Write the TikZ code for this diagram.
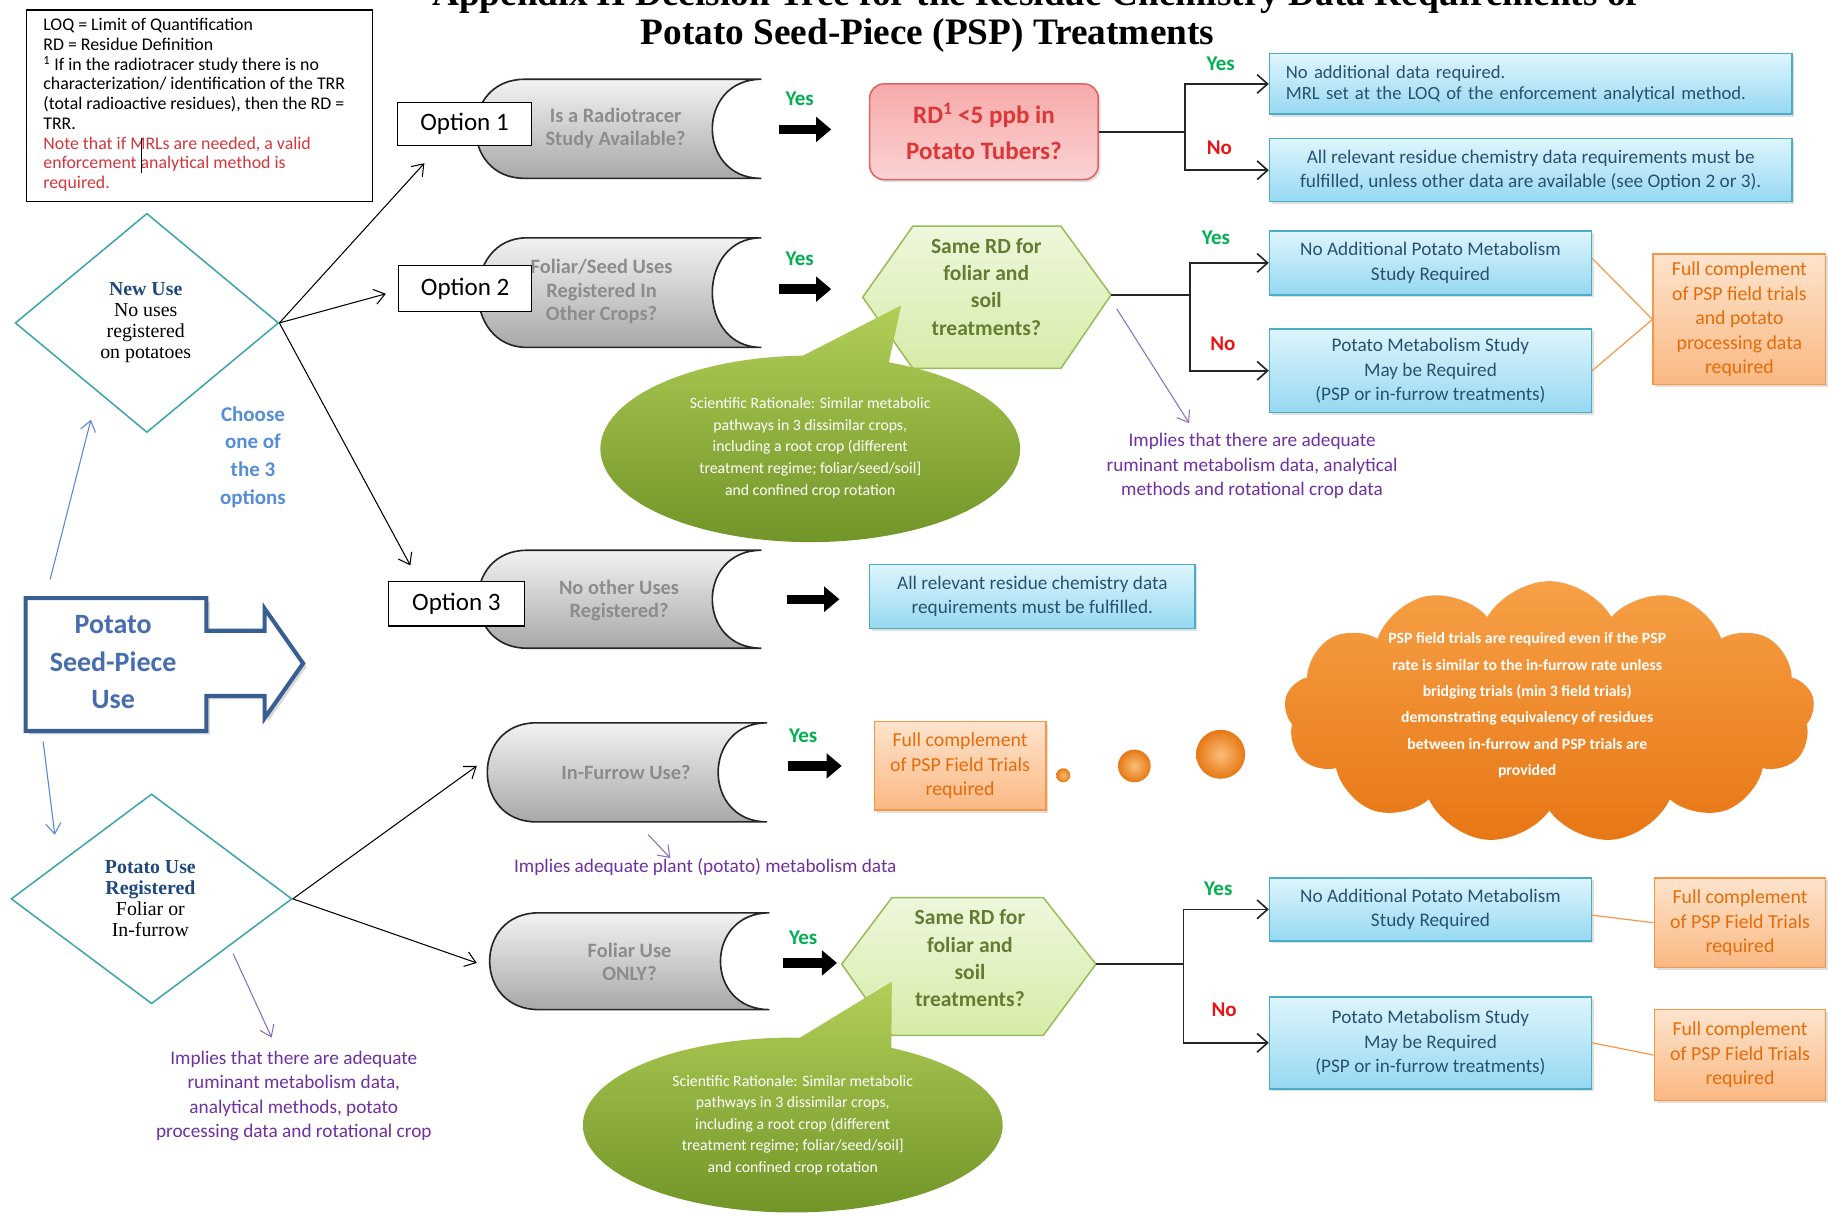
\documentclass[tikz,border=0pt]{standalone}
\usepackage{fontspec}
\setmainfont{Carlito}
\newfontfamily\tnr{Liberation Serif}
\usetikzlibrary{shapes.geometric,shapes.symbols,arrows.meta,shadows}
\definecolor{bluetop}{RGB}{222,245,252}
\definecolor{bluebot}{RGB}{150,216,242}
\definecolor{blueedge}{RGB}{75,172,198}
\definecolor{bluetxt}{RGB}{40,82,112}
\definecolor{orgtop}{RGB}{253,228,205}
\definecolor{orgbot}{RGB}{250,184,130}
\definecolor{orgedge}{RGB}{247,150,70}
\definecolor{orgtxt}{RGB}{228,108,10}
\definecolor{graytop}{RGB}{242,242,242}
\definecolor{graybot}{RGB}{168,168,168}
\definecolor{graytxt}{RGB}{140,140,140}
\definecolor{hextop}{RGB}{238,247,220}
\definecolor{hexbot}{RGB}{214,236,168}
\definecolor{hexedge}{RGB}{155,187,89}
\definecolor{hextxt}{RGB}{100,125,50}
\definecolor{bubtop}{RGB}{178,207,88}
\definecolor{bubbot}{RGB}{110,146,38}
\definecolor{redtop}{RGB}{246,170,170}
\definecolor{redbot}{RGB}{251,210,210}
\definecolor{rededge}{RGB}{222,100,100}
\definecolor{redtxt}{RGB}{220,55,55}
\definecolor{cloudtop}{RGB}{246,160,70}
\definecolor{cloudbot}{RGB}{232,118,20}
\definecolor{yesgreen}{RGB}{0,176,80}
\definecolor{nored}{RGB}{235,20,20}
\definecolor{purptxt}{RGB}{112,48,160}
\definecolor{purparr}{RGB}{140,110,190}
\definecolor{choosebl}{RGB}{85,142,213}
\definecolor{thinblue}{RGB}{85,135,210}
\definecolor{diaedge}{RGB}{60,165,170}
\definecolor{darkblue}{RGB}{31,73,125}
\definecolor{pspedge}{RGB}{55,95,145}
\definecolor{psptxt}{RGB}{70,110,175}
\definecolor{notered}{RGB}{210,55,60}
\definecolor{orgline}{RGB}{247,150,70}
\definecolor{ballin}{RGB}{250,190,120}
\definecolor{ballout}{RGB}{230,120,20}
\newcommand{\myfs}[2]{\fontsize{#1}{#2}\selectfont}
\newcommand{\grshape}[4]{\draw[grayshp] (#1+42,#3) -- (#2,#3) .. controls (#2-56,#3) and (#2-56,#4) .. (#2,#4) -- (#1+42,#4) .. controls (#1-14,#4) and (#1-14,#3) .. (#1+42,#3) -- cycle;}
\begin{document}
\begin{tikzpicture}[x=1pt,y=-1pt,
  shadowed/.style={drop shadow={opacity=0.25,shadow xshift=2pt,shadow yshift=-2pt}},
  bluebox/.style={draw=blueedge, line width=1.3, top color=bluetop, bottom color=bluebot, text=bluetxt, font=\myfs{16.5}{21}, align=center, inner sep=2, shadowed},
  orgbox/.style={draw=orgedge, line width=1.3, top color=orgtop, bottom color=orgbot, text=orgtxt, font=\myfs{17}{21}, align=center, inner sep=2, shadowed},
  optbox/.style={draw, line width=1, fill=white, font=\myfs{21.5}{24}, minimum height=38, inner sep=0},
  graytext/.style={text=graytxt, font=\bfseries\myfs{17.5}{20}, align=center},
  grayshp/.style={draw=black!85, line width=1.4, top color=graytop, bottom color=graybot},
  hexshp/.style={draw=hexedge, line width=1.3, top color=hextop, bottom color=hexbot},
  hextext/.style={text=hextxt, font=\bfseries\myfs{18.5}{23.5}, align=center},
  bubble/.style={top color=bubtop, bottom color=bubbot},
  bubtext/.style={text=white, font=\myfs{13.5}{18.5}, align=center},
  yeslab/.style={text=yesgreen, font=\bfseries\myfs{18}{20}},
  nolab/.style={text=nored, font=\bfseries\myfs{18}{20}},
  purp/.style={text=purptxt, font=\myfs{16.5}{21}, align=center},
  purparrow/.style={draw=purparr, line width=0.9, -{Straight Barb[length=9pt,width=13pt]}},
  thinarrow/.style={draw=black, line width=0.9, -{Straight Barb[length=9pt,width=13pt]}},
  bluearrow/.style={draw=thinblue, line width=0.9, -{Straight Barb[length=9pt,width=13pt]}},
  branch/.style={draw=black!85, line width=1.4, -{Straight Barb[length=9pt,width=16pt]}},
  fatarrow/.style={draw=black, line width=8, -{Triangle[length=13pt,width=21pt]}},
  orgln/.style={draw=orgline, line width=1},
  dot/.style={inner color=ballin, outer color=ballout}
]
\useasboundingbox (0,0) rectangle (1568,1044);
\clip (0,0) rectangle (1568,1044);
\fill[white] (0,0) rectangle (1568,1044);

% title
\node[font=\tnr\bfseries\myfs{32}{34}, anchor=base] (t1) at (888,5) {Appendix II  Decision Tree for the Residue Chemistry Data Requirements of};
\node[font=\tnr\bfseries\myfs{32}{34}, anchor=base] (t2) at (795.5,38) {Potato Seed-Piece (PSP) Treatments};

% legend
\node[draw, line width=1.2, minimum width=297, minimum height=164, anchor=north west, inner sep=0] (leg) at (22,8) {};
\node[anchor=west, align=left, font=\myfs{15.3}{16.9}, inner sep=0] (legt) at (37,90) {LOQ = Limit of Quantification\\RD = Residue Definition\\\textsuperscript{1} If in the radiotracer study there is no\\characterization/ identification of the TRR\\(total radioactive residues), then the RD =\\TRR.\\\textcolor{notered}{Note that if MRLs are needed, a valid}\\\textcolor{notered}{enforcement analytical method is}\\\textcolor{notered}{required.}};
\draw[line width=0.8] (121,118) -- (121,148);

% gray shapes
\grshape{408}{653}{68}{153}
\grshape{410}{653}{204}{298}
\grshape{410}{653}{472}{556}
\grshape{418}{658}{620}{705}
\grshape{420}{660}{783}{866}
\node[graytext] (g1) at (528,110) {Is a Radiotracer\\Study Available?};
\node[graytext] (g2) at (516,250) {Foliar/Seed Uses\\Registered In\\Other Crops?};
\node[graytext] (g3) at (531,515) {No other Uses\\Registered?};
\node[graytext] (g4) at (537,663) {In-Furrow Use?};
\node[graytext] (g5) at (540,825) {Foliar Use\\ONLY?};

\node[optbox, minimum width=115, minimum height=37] (opt1) at (398.5,106.5) {Option 1};
\node[optbox, minimum width=114, minimum height=39] (opt2) at (399,247.5) {Option 2};
\node[optbox, minimum width=117, minimum height=38] (opt3) at (391.5,518) {Option 3};

% red box
\node[draw=rededge, line width=1.3, top color=redtop, bottom color=redbot, rounded corners=12, minimum width=196, minimum height=82, text=redtxt, font=\bfseries\myfs{21.5}{31}, align=center, shadowed] (red) at (844,113) {RD\textsuperscript{1} <5 ppb in\\Potato Tubers?};

% blue boxes
\node[bluebox, minimum width=448, minimum height=52, text width=420, align=left, font=\myfs{16}{18.5}] (b1) at (1313,72) {No additional data required.\\MRL set at the LOQ of the enforcement analytical method.};
\node[bluebox, minimum width=448, minimum height=54] (b2) at (1313,146) {All relevant residue chemistry data requirements must be\\fulfilled, unless other data are available (see Option 2 or 3).};
\node[bluebox, minimum width=276, minimum height=55] (b3) at (1227,225.5) {No Additional Potato Metabolism\\Study Required};
\node[bluebox, minimum width=276, minimum height=72] (b4) at (1227,318) {Potato Metabolism Study\\May be Required\\(PSP or in-furrow treatments)};
\node[bluebox, minimum width=279, minimum height=55] (b5) at (885.5,511.5) {All relevant residue chemistry data\\requirements must be fulfilled.};
\node[bluebox, minimum width=276, minimum height=54] (b6) at (1227,780) {No Additional Potato Metabolism\\Study Required};
\node[bluebox, minimum width=276, minimum height=79] (b7) at (1227,894.5) {Potato Metabolism Study\\May be Required\\(PSP or in-furrow treatments)};

% orange boxes
\node[orgbox, minimum width=148, minimum height=112] (o1) at (1492,274) {Full complement\\of PSP field trials\\and potato\\processing data\\required};
\node[orgbox, minimum width=147, minimum height=76] (o2) at (823.5,657) {Full complement\\of PSP Field Trials\\required};
\node[orgbox, minimum width=147, minimum height=77] (o3) at (1492.5,791.5) {Full complement\\of PSP Field Trials\\required};
\node[orgbox, minimum width=147, minimum height=78] (o4) at (1492.5,905) {Full complement\\of PSP Field Trials\\required};

% hexagons
\draw[hexshp] (740,255) -- (783,194) -- (910,194) -- (953,253) -- (910,316) -- (783,316) -- cycle;
\draw[hexshp] (722,827) -- (765,770) -- (895,770) -- (940,827) -- (895,888) -- (765,888) -- cycle;
\node[hextext] (hx1) at (846,246) {Same RD for\\foliar and\\soil\\treatments?};
\node[hextext] (hx2) at (832,822) {Same RD for\\foliar and\\soil\\treatments?};
\coordinate (hx1r) at (953,253);
\coordinate (hx2r) at (940,827);

% speech bubbles
\path[bubble] (773,262) -- ([shift={(695,385)}]-68:180 and 80) arc[start angle=-68, end angle=268, x radius=180, y radius=80] -- cycle;
\path[bubble] (765,842) -- ([shift={(680,965)}]-62:180 and 75) arc[start angle=-62, end angle=272, x radius=180, y radius=75] -- cycle;
\node[bubtext] (sr1) at (695,384) {Scientific Rationale: Similar metabolic\\pathways in 3 dissimilar crops,\\including a root crop (different\\treatment regime; foliar/seed/soil]\\and confined crop rotation};
\node[bubtext] (sr2) at (680,965) {Scientific Rationale: Similar metabolic\\pathways in 3 dissimilar crops,\\including a root crop (different\\treatment regime; foliar/seed/soil]\\and confined crop rotation};

% cloud and dots
\node[cloud, cloud puffs=13, cloud puff arc=120, aspect=2, minimum width=455, minimum height=225, top color=cloudtop, bottom color=cloudbot, inner sep=0] (cloud) at (1329,611) {};
\node[text=white, font=\bfseries\myfs{13.5}{22.6}, align=center] (cloudt) at (1310,605) {PSP field trials are required even if the PSP\\rate is similar to the in-furrow rate unless\\bridging trials (min 3 field trials)\\demonstrating equivalency of residues\\between in-furrow and PSP trials are\\provided};
\shade[dot] (912,665) circle[radius=6];
\shade[dot] (973,657) circle[radius=14];
\shade[dot] (1047,647) circle[radius=21];

% diamonds
\node[diamond, draw=diaedge, line width=1.3, minimum width=226, minimum height=188, inner sep=0] (d1) at (126,277) {};
\node[align=center, font=\tnr\myfs{17}{18}] (d1t) at (125,277) {{\bfseries\color{darkblue}New Use}\\No uses\\registered\\on potatoes};
\node[diamond, draw=diaedge, line width=1.3, minimum width=241, minimum height=180, inner sep=0] (d2) at (130,771) {};
\node[align=center, font=\tnr\myfs{17}{18}] (d2t) at (129,771) {{\bfseries\color{darkblue}Potato Use}\\{\bfseries\color{darkblue}Registered}\\Foliar or\\In-furrow};
\node[text=choosebl, font=\bfseries\myfs{18}{23.7}, align=center] (choose) at (217,392) {Choose\\one of\\the 3\\options};

% potato seed-piece use
\draw[draw=pspedge, line width=3.5, fill=white, drop shadow={opacity=0.3,shadow xshift=3pt,shadow yshift=-3pt}] (22,513) -- (177,513) -- (177,541) -- (227,541) -- (227,522) -- (260,569) -- (227,616) -- (227,597) -- (177,597) -- (177,627) -- (22,627) -- cycle;
\node[text=psptxt, font=\bfseries\myfs{24}{32}, align=center] (psp) at (97,568) {Potato\\Seed-Piece\\Use};

% labels
\node[yeslab] (y1) at (686,85) {Yes};
\node[yeslab] (y2) at (686,222) {Yes};
\node[yeslab] (y4) at (689,631) {Yes};
\node[yeslab] (y5) at (689,804) {Yes};
\node[yeslab] (y1a) at (1047,55) {Yes};
\node[nolab] (n1a) at (1046,127) {No};
\node[yeslab] (y2a) at (1043,204) {Yes};
\node[nolab] (n2a) at (1049,295) {No};
\node[yeslab] (y5a) at (1045,762) {Yes};
\node[nolab] (n5a) at (1050,866) {No};

% purple notes
\node[purp] (imp1) at (1074,400) {Implies that there are adequate\\ruminant metabolism data, analytical\\methods and rotational crop data};
\node[purp] (imp2) at (605,744) {Implies adequate plant (potato) metabolism data};
\node[purp] (imp3) at (252,940) {Implies that there are adequate\\ruminant metabolism data,\\analytical methods, potato\\processing data and rotational crop};

% coordinates for free connector ends
\coordinate (a1e) at (364,140);
\coordinate (a2e) at (331,252);
\coordinate (a3e) at (352,485);
\coordinate (a4e) at (409,657);
\coordinate (a5e) at (409,826);
\coordinate (pa1s) at (958,265); \coordinate (pa1e) at (1020,363);
\coordinate (pa2s) at (556,716); \coordinate (pa2e) at (575,736);
\coordinate (pa3s) at (200,818); \coordinate (pa3e) at (233,890);
\coordinate (ba1s) at (43,497); \coordinate (ba1e) at (78,360);
\coordinate (ba2s) at (37,636); \coordinate (ba2e) at (47,716);
\coordinate (f1s) at (668,111); \coordinate (f1e) at (713,111);
\coordinate (f2s) at (668,248); \coordinate (f2e) at (713,248);
\coordinate (f3s) at (675,514); \coordinate (f3e) at (720,514);
\coordinate (f4s) at (676,657); \coordinate (f4e) at (722,657);
\coordinate (f5s) at (672,826); \coordinate (f5e) at (718,826);

% connectors
\draw[thinarrow] (d1.east) -- (a1e);
\draw[thinarrow] (d1.east) -- (a2e);
\draw[thinarrow] (d1.east) -- (a3e);
\draw[thinarrow] (d2.east) -- (a4e);
\draw[thinarrow] (d2.east) -- (a5e);
\draw[bluearrow] (ba1s) -- (ba1e);
\draw[bluearrow] (ba2s) -- (ba2e);
\draw[purparrow] (pa1s) -- (pa1e);
\draw[purparrow] (pa2s) -- (pa2e);
\draw[purparrow] (pa3s) -- (pa3e);
\draw[fatarrow] (f1s) -- (f1e);
\draw[fatarrow] (f2s) -- (f2e);
\draw[fatarrow] (f3s) -- (f3e);
\draw[fatarrow] (f4s) -- (f4e);
\draw[fatarrow] (f5s) -- (f5e);
\draw[branch] (red.east) -- ++(74,0) |- (b1.west);
\draw[branch] (red.east) -- ++(74,0) |- (b2.west);
\draw[branch] (hx1r) -- ++(68,0) |- (b3.west);
\draw[branch] (hx1r) -- ++(68,0) |- (b4.west);
\draw[branch] (hx2r) -- ++(75,0) |- (b6.west);
\draw[branch] (hx2r) -- ++(75,0) |- (b7.west);
\draw[orgln] ([yshift=4pt]b3.east) -- (o1.west);
\draw[orgln] (b4.east) -- (o1.west);
\draw[orgln] ([yshift=-5pt]b6.east) -- (o3.west);
\draw[orgln] (b7.east) -- (o4.west);
\end{tikzpicture}
\end{document}
